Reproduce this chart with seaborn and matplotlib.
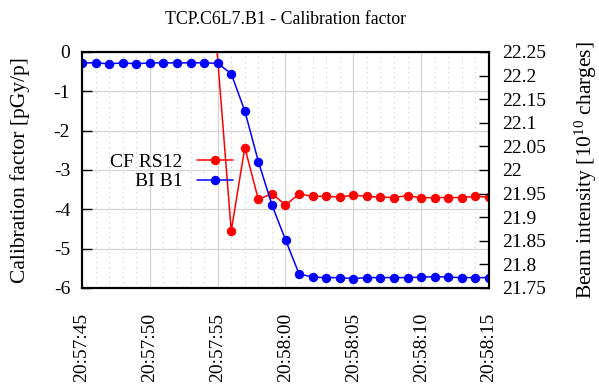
import numpy as np
import pandas as pd
import matplotlib
matplotlib.use("Agg")
import matplotlib.pyplot as plt
import matplotlib.dates as mdates
import matplotlib.ticker as mticker
import seaborn as sns

# ---- data ----
times = ["20:57:45", "20:57:46", "20:57:47", "20:57:48", "20:57:49", "20:57:50",
         "20:57:51", "20:57:52", "20:57:53", "20:57:54", "20:57:55", "20:57:56",
         "20:57:57", "20:57:58", "20:57:59", "20:58:00", "20:58:01", "20:58:02",
         "20:58:03", "20:58:04", "20:58:05", "20:58:06", "20:58:07", "20:58:08",
         "20:58:09", "20:58:10", "20:58:11", "20:58:12", "20:58:13", "20:58:14",
         "20:58:15"]
bi_b1 = [22.227, 22.227, 22.225, 22.227, 22.225, 22.227, 22.227, 22.227, 22.227,
         22.227, 22.226, 22.204, 22.125, 22.018, 21.926, 21.852, 21.780, 21.773,
         21.772, 21.772, 21.770, 21.772, 21.772, 21.772, 21.772, 21.773, 21.774,
         21.773, 21.772, 21.772, 21.772]

cf_times = ["20:57:54", "20:57:56", "20:57:57", "20:57:58", "20:57:59", "20:58:00",
            "20:58:01", "20:58:02", "20:58:03", "20:58:04", "20:58:05", "20:58:06",
            "20:58:07", "20:58:08", "20:58:09", "20:58:10", "20:58:11", "20:58:12",
            "20:58:13", "20:58:14", "20:58:15"]
cf_rs12 = [4.2, -4.55, -2.43, -3.75, -3.60, -3.89, -3.61, -3.67, -3.67, -3.69, -3.64,
           -3.67, -3.69, -3.70, -3.65, -3.71, -3.70, -3.70, -3.70, -3.67, -3.69]

title = "TCP.C6L7.B1 - Calibration factor"
left_label = "Calibration factor [pGy/p]"
right_label = r"Beam intensity [10$^{10}$ charges]"
series_names = ["CF RS12", "BI B1"]
left_ticks = [0, -1, -2, -3, -4, -5, -6]
right_ticks = [21.75, 21.8, 21.85, 21.9, 21.95, 22.0, 22.05, 22.1, 22.15, 22.2, 22.25]

def to_dt(lst):
    return pd.to_datetime(["2000-01-01 " + t for t in lst])

df_bi = pd.DataFrame({"t": to_dt(times), "v": bi_b1})
df_cf = pd.DataFrame({"t": to_dt(cf_times), "v": cf_rs12})

# ---- style ----
sns.set_theme(style="white")
plt.rcParams["font.family"] = ["Liberation Serif", "DejaVu Serif"]
plt.rcParams["mathtext.fontset"] = "custom"
plt.rcParams["mathtext.rm"] = "Liberation Serif"
plt.rcParams["mathtext.it"] = "Liberation Serif:italic"
plt.rcParams["text.color"] = "black"
plt.rcParams["axes.labelcolor"] = "black"
plt.rcParams["xtick.color"] = "black"
plt.rcParams["ytick.color"] = "black"

FS = 14
LFS = 15.5

fig = plt.figure(figsize=(5.99, 3.87), dpi=100)
W, H = 599, 387
x0, x1, y0, y1 = 82, 489, 52, 288
ax = fig.add_axes([x0 / W, 1 - y1 / H, (x1 - x0) / W, (y1 - y0) / H])
ax2 = ax.twinx()

sns.lineplot(data=df_cf, x="t", y="v", ax=ax, color="#ff0000", marker="o",
             markersize=6, markeredgecolor="#ff0000", linewidth=1.1, legend=False)
sns.lineplot(data=df_bi, x="t", y="v", ax=ax2, color="#0000ff", marker="o",
             markersize=6, markeredgecolor="#0000ff", linewidth=1.1, legend=False)

tmin = to_dt([times[0]])[0]
tmax = to_dt([times[-1]])[0]
ax.set_xlim(tmin, tmax)
ax.set_ylim(-6, 0)
ax2.set_ylim(21.75, 22.25)

ax.xaxis.set_major_locator(mdates.SecondLocator(bysecond=range(0, 60, 5)))
ax.xaxis.set_minor_locator(mdates.SecondLocator())
ax.xaxis.set_major_formatter(mdates.DateFormatter("%H:%M:%S"))
ax.set_yticks(left_ticks)
ax.yaxis.set_major_formatter(mticker.FuncFormatter(lambda v, p: f"{v:g}"))
ax2.set_yticks(right_ticks)
ax2.yaxis.set_major_formatter(mticker.FuncFormatter(lambda v, p: f"{v:g}"))

# grid
ax.grid(which="major", axis="both", color="#d4d4d4", linewidth=0.9, linestyle="-")
ax.grid(which="minor", axis="x", color="#d8d8d8", linewidth=0.8, linestyle=(0, (1.5, 3)))
ax.set_axisbelow(True)

# ticks
ax.tick_params(axis="y", which="major", direction="in", length=7.2, width=1,
               labelsize=FS, pad=8.5, right=False)
ax.tick_params(axis="x", which="major", direction="out", length=5.8, width=1,
               labelsize=FS, pad=12, top=False)
ax.tick_params(axis="x", which="minor", direction="out", length=2.9, width=1, top=False)
ax2.tick_params(axis="y", which="major", direction="in", length=7.2, width=1,
                labelsize=FS, pad=9.5)
for lab in ax.get_xticklabels():
    lab.set_rotation(90)
    lab.set_ha("center")
    lab.set_va("top")

for a in (ax, ax2):
    for s in a.spines.values():
        s.set_linewidth(1.5)
        s.set_color("black")
        s.set_visible(True)

ax.set_xlabel("")
ax.set_ylabel(left_label, fontsize=LFS)
ax2.set_ylabel(right_label, fontsize=LFS)
ax.yaxis.set_label_coords(-0.128, 0.5, transform=ax.transAxes)
ax2.yaxis.set_label_coords(1.206, 0.5, transform=ax2.transAxes)

fig.text(0.5 * (x0 + x1) / W, 1 - 19 / H, title, ha="center", va="center", fontsize=12.8)

handles = [ax.lines[0], ax2.lines[0]]
leg = ax2.legend(handles, series_names, loc="center right",
                 bbox_to_anchor=(0.371, 0.492), borderaxespad=0, borderpad=0,
                 frameon=False, markerfirst=False, fontsize=FS,
                 handlelength=1.86, handletextpad=0.72, labelspacing=0.1)

fig.savefig("out.png", dpi=100)
